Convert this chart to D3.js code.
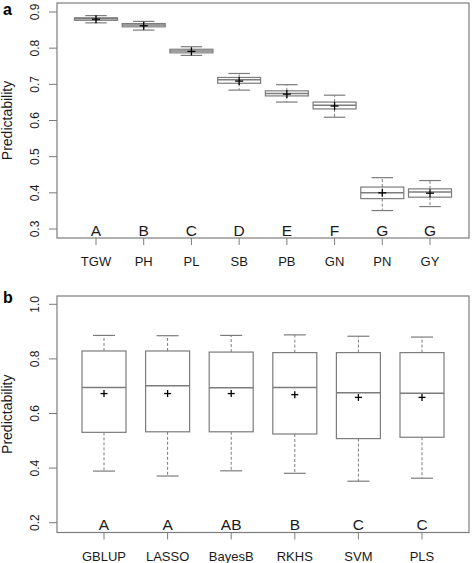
<!DOCTYPE html>
<html><head><meta charset="utf-8">
<script src="https://cdn.jsdelivr.net/npm/d3@7"></script>
<style>body{margin:0;background:#fff}svg{display:block;font-family:"Liberation Sans",Arial,sans-serif}</style>
</head><body>
<svg id="c" width="472" height="563"></svg>
<script>
// Panel a
const traitsA = ["TGW","PH","PL","SB","PB","GN","PN","GY"];
const lettersA = ["A","B","C","D","E","F","G","G"];
const minA  = [0.870,0.850,0.780,0.684,0.651,0.609,0.351,0.362];
const q1A   = [0.877,0.859,0.787,0.703,0.668,0.632,0.384,0.388];
const medA  = [0.881,0.864,0.792,0.713,0.675,0.642,0.400,0.402];
const q3A   = [0.884,0.868,0.797,0.719,0.682,0.651,0.416,0.411];
const maxA  = [0.890,0.874,0.804,0.730,0.699,0.670,0.442,0.434];
const meanA = [0.880,0.862,0.791,0.709,0.673,0.640,0.400,0.399];
const ticksA = [0.3,0.4,0.5,0.6,0.7,0.8,0.9];
// Panel b
const methodsB = ["GBLUP","LASSO","BayesB","RKHS","SVM","PLS"];
const lettersB = ["A","A","AB","B","C","C"];
const minB  = [0.389,0.371,0.390,0.381,0.352,0.363];
const q1B   = [0.531,0.533,0.533,0.525,0.508,0.513];
const medB  = [0.695,0.702,0.694,0.695,0.676,0.674];
const q3B   = [0.829,0.829,0.825,0.823,0.823,0.823];
const maxB  = [0.886,0.885,0.886,0.888,0.883,0.880];
const meanB = [0.673,0.673,0.673,0.669,0.659,0.659];
const ticksB = [0.2,0.4,0.6,0.8,1.0];

const svg = d3.select("#c");
const gray = "#7c7c7c", txt = "#1a1a1a";

function panel(o){
  const g = svg.append("g");
  const n = o.cats.length;
  const x = d3.scaleLinear().domain([1,n]).range(o.xr);
  const y = d3.scaleLinear().domain(o.yd).range(o.yr);
  // frame
  g.append("rect").attr("x",o.left).attr("y",o.top).attr("width",o.right-o.left).attr("height",o.bottom-o.top)
    .attr("fill","none").attr("stroke",gray).attr("stroke-width",1.2);
  // y axis ticks
  o.ticks.forEach(t=>{
    g.append("line").attr("x1",o.left-8).attr("x2",o.left).attr("y1",y(t)).attr("y2",y(t)).attr("stroke",gray);
    g.append("text").attr("transform",`translate(39,${y(t)}) rotate(-90)`).attr("text-anchor","middle")
      .attr("font-size",12).attr("fill",txt).text(d3.format(".1f")(t));
  });
  g.append("text").attr("transform",`translate(12,${(o.top+o.bottom)/2}) rotate(-90)`).attr("text-anchor","middle")
    .attr("font-size",14).attr("fill",txt).text("Predictability");
  g.append("text").attr("x",3).attr("y",o.top+o.labDy).attr("font-size",16).attr("font-weight","bold").attr("fill","#000").text(o.label);
  const bw = o.bw;
  o.cats.forEach((c,i)=>{
    const cx = x(i+1);
    // x tick
    g.append("line").attr("x1",cx).attr("x2",cx).attr("y1",o.bottom).attr("y2",o.bottom+7).attr("stroke",gray);
    g.append("text").attr("x",cx).attr("y",o.bottom+28).attr("text-anchor","middle").attr("font-size",13).attr("fill",txt).text(c);
    g.append("text").attr("x",cx).attr("y",o.bottom-2.5).attr("text-anchor","middle").attr("font-size",15.5).attr("fill",txt).text(o.letters[i]);
    // whiskers
    g.append("line").attr("x1",cx).attr("x2",cx).attr("y1",y(o.q3[i])).attr("y2",y(o.max[i])).attr("stroke",gray).attr("stroke-dasharray","3,2");
    g.append("line").attr("x1",cx).attr("x2",cx).attr("y1",y(o.q1[i])).attr("y2",y(o.min[i])).attr("stroke",gray).attr("stroke-dasharray","3,2");
    [o.max[i],o.min[i]].forEach(v=>{
      g.append("line").attr("x1",cx-bw/4).attr("x2",cx+bw/4).attr("y1",y(v)).attr("y2",y(v)).attr("stroke",gray).attr("stroke-width",1.2);
    });
    g.append("rect").attr("x",cx-bw/2).attr("y",y(o.q3[i])).attr("width",bw).attr("height",y(o.q1[i])-y(o.q3[i]))
      .attr("fill","#fff").attr("stroke",gray).attr("stroke-width",1.2);
    g.append("line").attr("x1",cx-bw/2).attr("x2",cx+bw/2).attr("y1",y(o.med[i])).attr("y2",y(o.med[i])).attr("stroke",gray).attr("stroke-width",1.5);
    const m = y(o.mean[i]), s = o.ms;
    g.append("line").attr("x1",cx-s).attr("x2",cx+s).attr("y1",m).attr("y2",m).attr("stroke","#000").attr("stroke-width",1.3);
    g.append("line").attr("x1",cx).attr("x2",cx).attr("y1",m-s).attr("y2",m+s).attr("stroke","#000").attr("stroke-width",1.3);
  });
}

panel({cats:traitsA,letters:lettersA,min:minA,q1:q1A,med:medA,q3:q3A,max:maxA,mean:meanA,ticks:ticksA,
  left:57,right:469,top:3,bottom:238,xr:[96,430],yd:[0.3,0.9],yr:[229,12],bw:43,ms:4,label:"a",labDy:12});
panel({cats:methodsB,letters:lettersB,min:minB,q1:q1B,med:medB,q3:q3B,max:maxB,mean:meanB,ticks:ticksB,
  left:57,right:469,top:296,bottom:532.5,xr:[104,422],yd:[0.2,1.0],yr:[522.7,304.3],bw:44,ms:3.5,label:"b",labDy:7});
</script>
</body></html>
